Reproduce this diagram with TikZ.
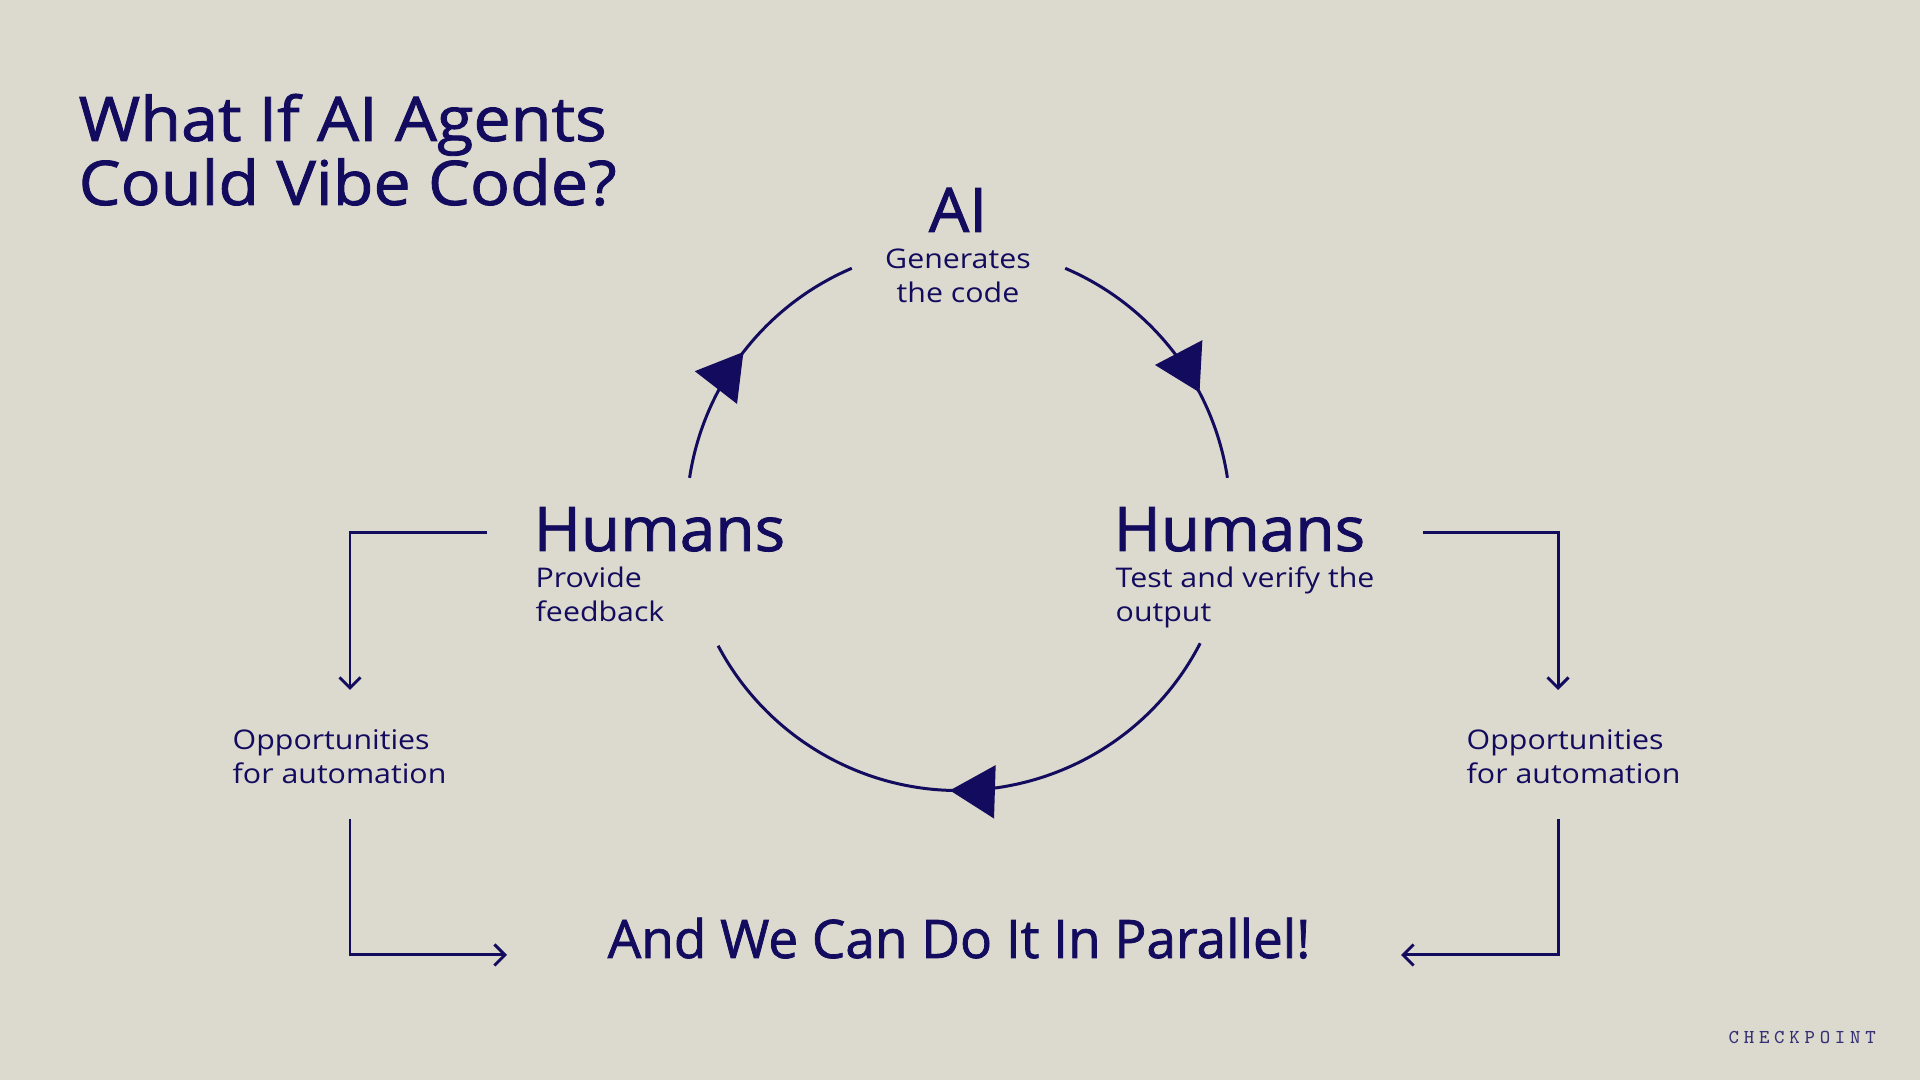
\documentclass[tikz,border=0pt]{standalone}
\usepackage{fontspec}
\setmainfont{Open Sans}
\newfontfamily\titlefont{Open Sans}[FakeBold=1.4,FakeStretch=1.08]
\newfontfamily\headfont{Open Sans}[FakeBold=1.4,FakeStretch=1.04]
\newfontfamily\footfont{Open Sans}[FakeBold=1.4]
\newfontfamily\subfont{Open Sans}[FakeStretch=1.12]
\newfontfamily\brandfont{Latin Modern Mono}[LetterSpace=24]
\usetikzlibrary{arrows.meta,decorations.markings}
\definecolor{ink}{HTML}{130B5E}
\definecolor{paper}{HTML}{DCDACE}
\begin{document}
\begin{tikzpicture}[x=0.01cm,y=-0.01cm,
    head/.style={font=\headfont\fontsize{17.5pt}{18.2pt}\selectfont,text=ink,inner sep=0pt,align=left},
    sub/.style={font=\subfont\fontsize{7.7pt}{9.67pt}\selectfont,text=ink,inner sep=0pt,align=left},
    cyc/.style={color=ink,line width=0.85pt},
    hook/.style={color=ink,line width=0.85pt,-{Straight Barb[length=3pt,width=6pt]}},
    tri/.style={decoration={markings,mark=at position #1 with {\arrow{Triangle[length=12.8pt,width=15pt]}}},postaction={decorate}}]
    \fill[paper] (0,0) rectangle (1920,1080);
    %Title%
    \node[head,anchor=base west,font=\titlefont\fontsize{17.5pt}{18.2pt}\selectfont] (title) at (78,205) {What If AI Agents\\Could Vibe Code?};

    % Labels %
    \node[head,anchor=base] (ai) at (958,232) {AI};
    \node[sub,align=center,anchor=base] (gen) at (958,303) {Generates\\the code};
    \node[head,anchor=base west] (hl) at (533,551) {Humans};
    \node[sub,anchor=base west] (fb) at (535,622) {Provide\\feedback};
    \node[head,anchor=base west] (hr) at (1113,551) {Humans};
    \node[sub,anchor=base west] (tv) at (1115,622) {Test and verify the\\output};
    \node[sub,anchor=base west] (optl) at (232,784) {Opportunities\\for automation};
    \node[sub,anchor=base west] (optr) at (1466,784) {Opportunities\\for automation};
    \node[head,anchor=base,font=\footfont\fontsize{15.1pt}{16pt}\selectfont] (par) at (959,958) {And We Can Do It In Parallel!};
    \node[anchor=base west,inner sep=0pt,text=ink!85,font=\brandfont\fontsize{5.6pt}{6pt}\selectfont] (brand) at (1728,1044) {CHECKPOINT};

    % Cycle %
    \coordinate (c) at (958.5,518.5);
    \draw[cyc,tri=0.5] ([shift={(-171.4:272)}]c) arc[start angle=-171.4,end angle=-113.1,radius=272];
    \draw[cyc,tri=0.674] ([shift={(-66.9:272)}]c) arc[start angle=-66.9,end angle=-8.6,radius=272];
    \draw[cyc,tri=0.517] ([shift={(27.3:272)}]c) arc[start angle=27.3,end angle=152.1,radius=272];

    % Hooks %
    \coordinate (la) at (487,533);
    \coordinate (lb) at (350,690);
    \coordinate (lc) at (350,819);
    \coordinate (ld) at (507,955);
    \coordinate (ra) at (1423,533);
    \coordinate (rb) at (1558,690);
    \coordinate (rc) at (1558,819);
    \coordinate (rd) at (1401,955);
    \draw[hook] (la) -| (lb);
    \draw[hook] (lc) |- (ld);
    \draw[hook] (ra) -| (rb);
    \draw[hook] (rc) |- (rd);
\end{tikzpicture}
\end{document}
